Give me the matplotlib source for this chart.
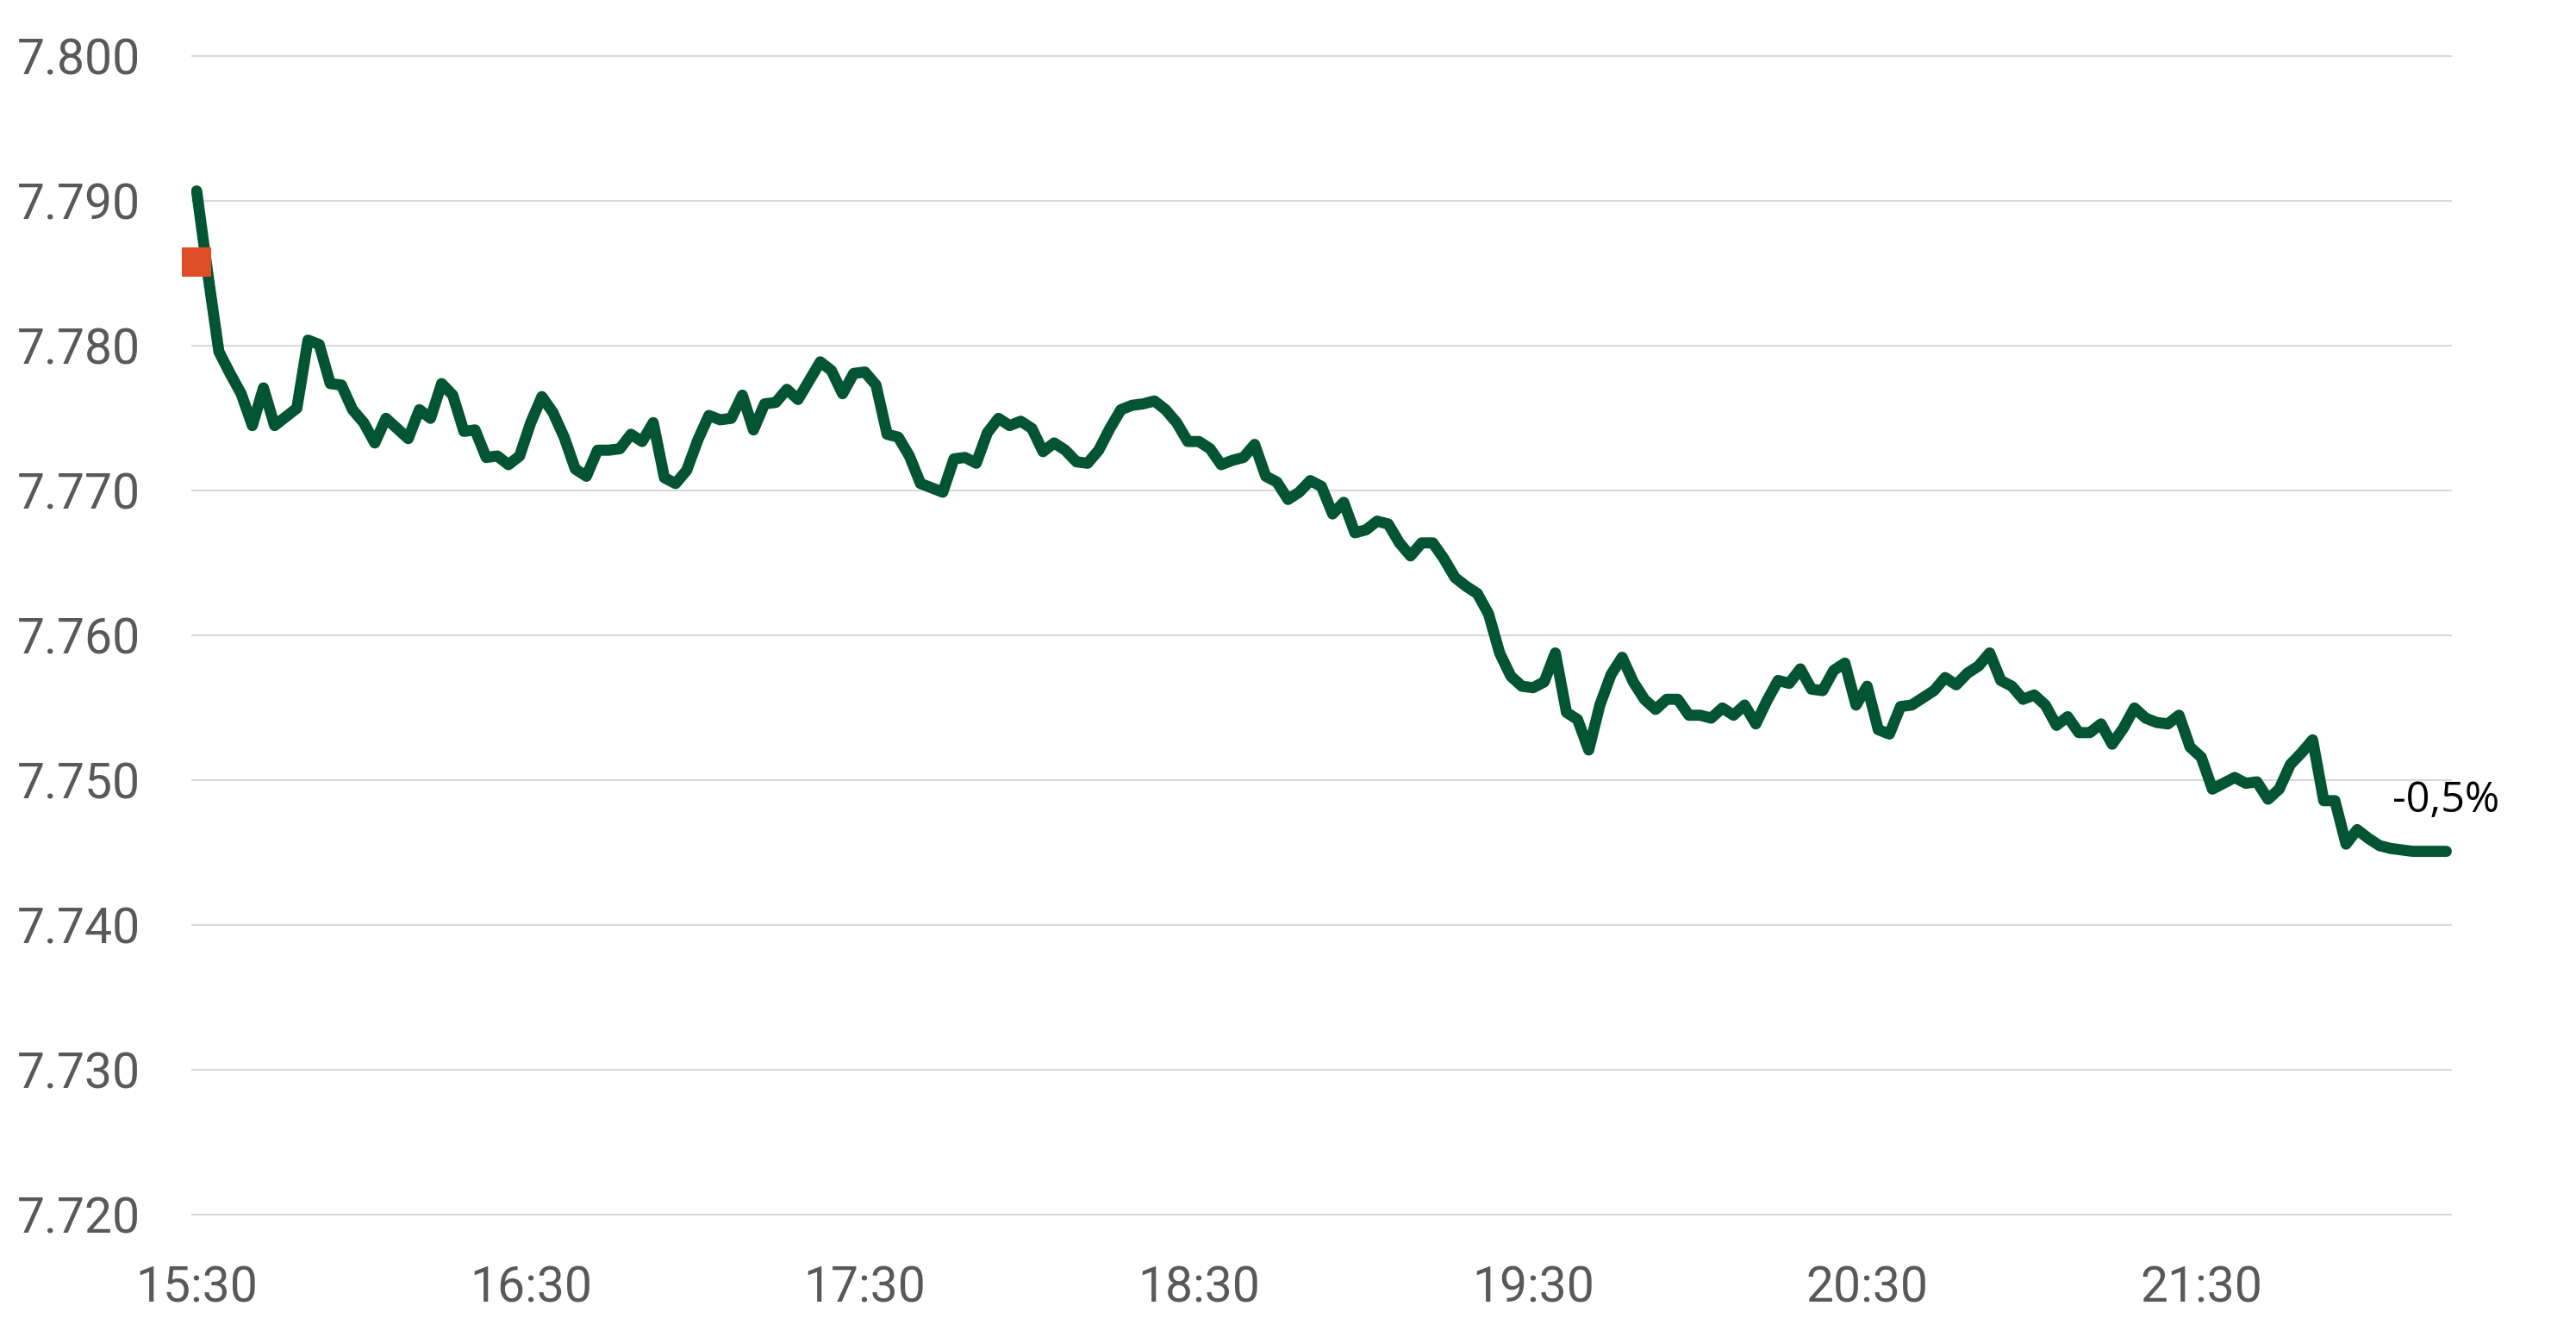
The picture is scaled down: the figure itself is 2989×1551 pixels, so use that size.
import matplotlib
matplotlib.use("Agg")
import matplotlib.pyplot as plt
from matplotlib.ticker import FuncFormatter
import pandas as pd

# quotes every 2 minutes from 15:30
start_time = "2024-01-02 15:30"
step = "2min"

values = [
    7.7907, 7.7850, 7.7796, 7.7781, 7.7767, 7.7745, 7.7771, 7.7745, 7.7751, 7.7757,
    7.7804, 7.7801, 7.7774, 7.7773, 7.7756, 7.7747, 7.7733, 7.7750, 7.7743, 7.7736,
    7.7756, 7.7750, 7.7774, 7.7766, 7.7741, 7.7742, 7.7723, 7.7724, 7.7718, 7.7724,
    7.7747, 7.7765, 7.7754, 7.7737, 7.7715, 7.7710, 7.7728, 7.7728, 7.7729, 7.7739,
    7.7734, 7.7747, 7.7709, 7.7705, 7.7714, 7.7735, 7.7752, 7.7749, 7.7750, 7.7766,
    7.7742, 7.7760, 7.7761, 7.7770, 7.7763, 7.7776, 7.7789, 7.7783, 7.7767, 7.7781,
    7.7782, 7.7773, 7.7739, 7.7737, 7.7724, 7.7705, 7.7702, 7.7699, 7.7722, 7.7723,
    7.7719, 7.7740, 7.7750, 7.7745, 7.7748, 7.7743, 7.7727, 7.7733, 7.7728, 7.7720,
    7.7719, 7.7728, 7.7743, 7.7756, 7.7759, 7.7760, 7.7762, 7.7756, 7.7747, 7.7734,
    7.7734, 7.7729, 7.7718, 7.7721, 7.7723, 7.7732, 7.7710, 7.7706, 7.7694, 7.7699,
    7.7707, 7.7703, 7.7684, 7.7692, 7.7671, 7.7673, 7.7679, 7.7677, 7.7664, 7.7655,
    7.7664, 7.7664, 7.7653, 7.7640, 7.7634, 7.7629, 7.7615, 7.7588, 7.7572, 7.7565,
    7.7564, 7.7568, 7.7588, 7.7547, 7.7542, 7.7521, 7.7552, 7.7573, 7.7585, 7.7568,
    7.7556, 7.7549, 7.7556, 7.7556, 7.7545, 7.7545, 7.7543, 7.7550, 7.7545, 7.7552,
    7.7539, 7.7555, 7.7569, 7.7567, 7.7577, 7.7563, 7.7562, 7.7576, 7.7581, 7.7552,
    7.7565, 7.7535, 7.7532, 7.7551, 7.7552, 7.7557, 7.7562, 7.7571, 7.7566, 7.7574,
    7.7579, 7.7588, 7.7569, 7.7565, 7.7556, 7.7559, 7.7552, 7.7538, 7.7544, 7.7533,
    7.7533, 7.7539, 7.7525, 7.7536, 7.7550, 7.7543, 7.7540, 7.7539, 7.7545, 7.7523,
    7.7516, 7.7494, 7.7498, 7.7502, 7.7498, 7.7499, 7.7487, 7.7494, 7.7511, 7.7519,
    7.7528, 7.7486, 7.7486, 7.7456, 7.7466, 7.7460, 7.7455, 7.7453, 7.7452, 7.7451,
    7.7451, 7.7451, 7.7451,
]

prev_close = 7.7858
change_label = "-0,5%"
tick_labels = ["15:30", "16:30", "17:30", "18:30", "19:30", "20:30", "21:30"]
y_ticks = [7.72, 7.73, 7.74, 7.75, 7.76, 7.77, 7.78, 7.79, 7.80]

times = pd.date_range(start_time, periods=len(values), freq=step)
t0 = times[0]

green = "#035433"
red = "#DF4E26"
grey = "#595959"

fig = plt.figure(figsize=(29.89, 15.51), dpi=100)
ax = fig.add_axes([0.07417, 0.08594, 0.87763, 0.87738])

ax.plot(times, values, color=green, lw=9.3, solid_joinstyle="round",
        solid_capstyle="round", zorder=3)
# previous close marker, sits over the left edge
ax.plot([t0], [prev_close], marker="s", markersize=24, color=red,
        markeredgewidth=0, linestyle="none", zorder=4, clip_on=False)

ax.annotate(change_label, xy=(times[-1], values[-1]), xytext=(-45, 33),
            textcoords="offset points", ha="left", va="baseline",
            fontsize=35, color="black", family=["Open Sans", "DejaVu Sans"])

ax.set_ylim(7.7195, 7.8005)
ax.set_xlim(t0 - pd.Timedelta(minutes=1), t0 + pd.Timedelta(minutes=405))
ax.set_yticks(y_ticks)
ax.yaxis.set_major_formatter(FuncFormatter(lambda v, p: f"{v:.3f}"))

tick_pos = [t0 + pd.Timedelta(hours=i) for i in range(len(tick_labels))]
ax.set_xticks(tick_pos)
ax.set_xticklabels(tick_labels)

ax.grid(axis="y", color="#D9D9D9", lw=1.5, zorder=0)
ax.grid(axis="x", visible=False)
for s in ax.spines.values():
    s.set_visible(False)

ax.tick_params(axis="both", length=0, labelsize=41, labelcolor=grey)
ax.tick_params(axis="y", pad=42)
ax.tick_params(axis="x", pad=36)
for lab in ax.get_xticklabels() + ax.get_yticklabels():
    lab.set_family(["Roboto", "DejaVu Sans"])

fig.savefig("out.png", dpi=100, facecolor="white")
